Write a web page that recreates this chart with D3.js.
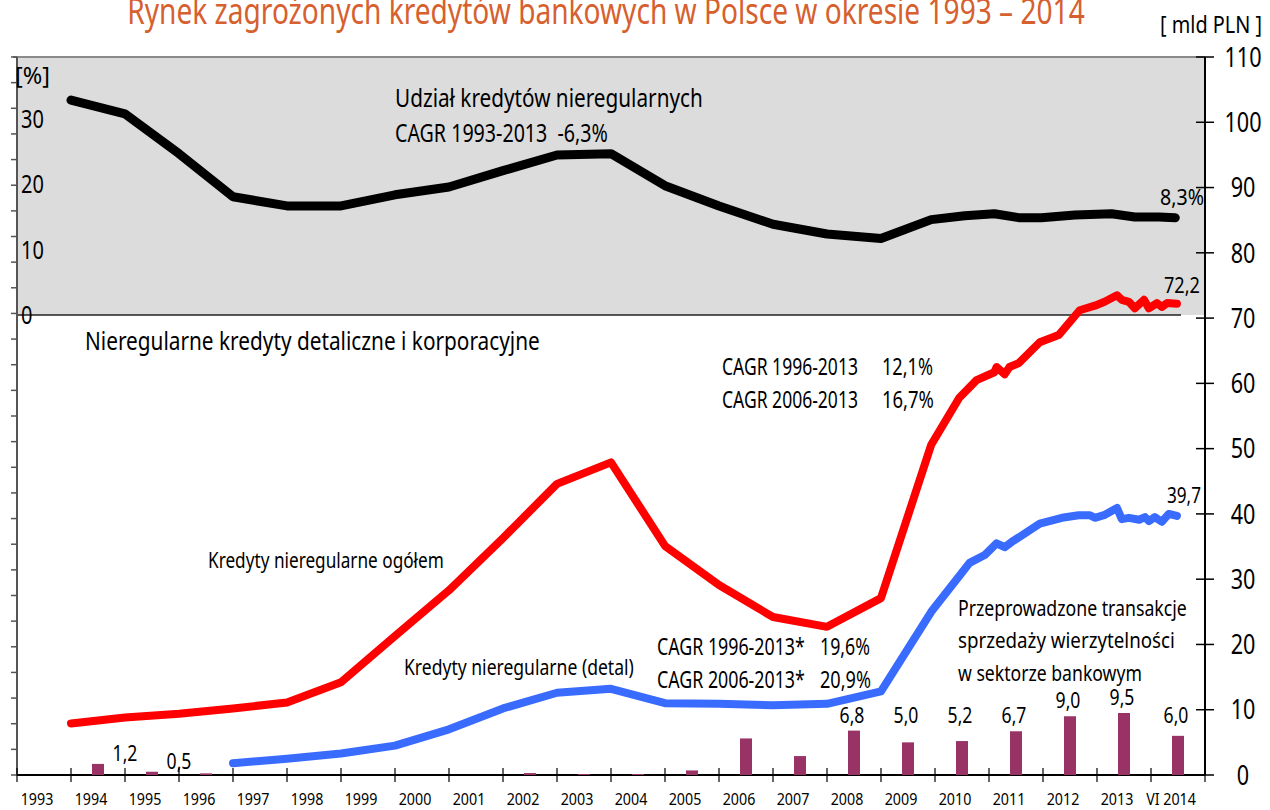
<!DOCTYPE html>
<html>
<head>
<meta charset="utf-8">
<script src="https://cdn.jsdelivr.net/npm/d3@7"></script>
<style>
    body { margin: 0; background: #fff; }
    svg text { font-family: "Noto Sans", "Open Sans", sans-serif; fill: #000; white-space: pre; }
</style>
</head>
<body>
<svg id="chart" width="1270" height="810"></svg>
<script>
// x axis labels, one per year band
const yearLabels = ["1993","1994","1995","1996","1997","1998","1999","2000","2001","2002","2003",
    "2004","2005","2006","2007","2008","2009","2010","2011","2012","2013","VI 2014"];

// udział kredytów nieregularnych [%] (time = year end, later points monthly/quarterly)
const shareTime  = [1994, 1995, 1996, 1997, 1998, 1999, 2000, 2001, 2002, 2003, 2004, 2005, 2006, 2007, 2008, 2009,
    2009.93, 2010.55, 2011.1, 2011.55, 2011.97, 2012.59, 2013.27, 2013.7, 2014.15, 2014.45];
const shareValue = [32.9, 30.8, 24.7, 18.1, 16.7, 16.7, 18.4, 19.6, 22.1, 24.5, 24.7, 19.8, 16.7, 13.9, 12.4, 11.7,
    14.6, 15.2, 15.5, 14.9, 14.9, 15.3, 15.5, 15.0, 15.0, 14.9];

// kredyty nieregularne ogółem [mld PLN]
const totalTime  = [1994, 1995, 1996, 1997, 1998, 1999, 2000, 2001, 2002, 2003, 2004, 2005, 2006, 2007, 2008, 2009,
    2009.93, 2010.45, 2010.77, 2011.1, 2011.14, 2011.29, 2011.38, 2011.55, 2011.94, 2012.29, 2012.68, 2012.96,
    2013.14, 2013.37, 2013.46, 2013.59, 2013.7, 2013.87, 2013.96, 2014.11, 2014.2, 2014.3, 2014.48];
const totalValue = [7.9, 8.8, 9.4, 10.2, 11.1, 14.2, 21.3, 28.3, 36.3, 44.6, 47.9, 35.1, 29.1, 24.2, 22.7, 27.1,
    50.6, 57.8, 60.5, 61.7, 62.5, 61.4, 62.5, 63.1, 66.3, 67.4, 71.2, 71.9,
    72.5, 73.5, 72.8, 72.5, 71.5, 72.8, 71.5, 72.3, 71.7, 72.3, 72.2];

// kredyty nieregularne (detal) [mld PLN]
const retailTime  = [1997, 1998, 1999, 2000, 2001, 2002, 2003, 2004, 2005, 2006, 2007, 2008, 2009,
    2009.93, 2010.49, 2010.64, 2010.92, 2011.14, 2011.29, 2011.42, 2011.94, 2012.35, 2012.66, 2012.87, 2012.96,
    2013.13, 2013.37, 2013.46, 2013.59, 2013.78, 2013.89, 2013.96, 2014.07, 2014.2, 2014.33, 2014.48];
const retailValue = [1.8, 2.5, 3.3, 4.5, 7.0, 10.2, 12.6, 13.2, 11.0, 10.9, 10.7, 10.9, 12.8,
    25.0, 30.9, 32.5, 33.7, 35.5, 34.9, 35.7, 38.5, 39.4, 39.8, 39.8, 39.4,
    39.8, 40.9, 39.2, 39.4, 39.1, 39.5, 38.9, 39.5, 38.8, 40.0, 39.7];

// sprzedaż wierzytelności [mld PLN], one bar per year band
const saleValue = [0, 1.7, 0.5, 0.25, 0, 0, 0, 0, 0, 0.3, 0.15, 0.15, 0.7, 5.6, 2.9, 6.8, 5.0, 5.2, 6.7, 9.0, 9.5, 6.0];
const saleLabelYear = [1994, 1995, 2008, 2009, 2010, 2011, 2012, 2013, 2014];
const saleLabelText = ["1,2", "0,5", "6,8", "5,0", "5,2", "6,7", "9,0", "9,5", "6,0"];

const mldTicks = d3.range(0, 111, 10);
const pctTicks = [0, 10, 20, 30];

const svg = d3.select("#chart");

const x = d3.scaleLinear().domain([1993, 2015]).range([17, 1205]);
const y = d3.scaleLinear().domain([0, 110]).range([775, 57]);
const yPct = d3.scaleLinear().domain([0, 39.5]).range([315, 57]);

// the original uses a condensed face: squeeze each text horizontally,
// either by a factor or to a given width
function squeeze(sel, k, width) {
    sel.each(function(d) {
        const w = this.getComputedTextLength();
        const f = width ? width(d) / w : k;
        const tx = +this.getAttribute("x"), ty = +this.getAttribute("y");
        this.setAttribute("x", 0);
        this.setAttribute("y", 0);
        this.setAttribute("transform", "translate(" + tx + "," + ty + ") scale(" + f + ",1)");
    });
}

// grey panel for the share line
svg.append("rect")
    .attr("x", x(1993)).attr("y", yPct(39.5))
    .attr("width", x(2015) - x(1993)).attr("height", yPct(0) - yPct(39.5))
    .attr("fill", "#dcdcdc");
svg.append("line")
    .attr("x1", 13).attr("x2", x(2015))
    .attr("y1", yPct(39.5)).attr("y2", yPct(39.5))
    .attr("stroke", "#8a8a8a").attr("stroke-width", 2);
svg.append("line")
    .attr("x1", x(1993)).attr("x2", 1181)
    .attr("y1", yPct(0)).attr("y2", yPct(0))
    .attr("stroke", "#222").attr("stroke-width", 1.5);

// left axis (plain ticks)
svg.append("line")
    .attr("x1", 17).attr("x2", 17).attr("y1", 57).attr("y2", 775)
    .attr("stroke", "#555").attr("stroke-width", 2);
const leftTick = d3.scaleLinear().domain([0, 28]).range([775, 57]);
svg.append("g").selectAll("line").data(d3.range(0, 29)).join("line")
    .attr("x1", 11).attr("x2", 17)
    .attr("y1", d => leftTick(d)).attr("y2", d => leftTick(d))
    .attr("stroke", "#555").attr("stroke-width", 1.5);
svg.append("g").selectAll("text").data(pctTicks).join("text")
    .attr("x", 21).attr("y", d => yPct(d)).attr("dy", "0.36em")
    .style("font-size", "25px")
    .text(d => d)
    .call(squeeze, 0.8);
svg.append("text").attr("x", 15).attr("y", 84).style("font-size", "24px").text("[%]")
    .call(squeeze, 0, () => 35);

// right axis
svg.append("line")
    .attr("x1", 1205).attr("x2", 1205).attr("y1", 57).attr("y2", 775)
    .attr("stroke", "#000").attr("stroke-width", 2);
svg.append("g").selectAll("line").data(mldTicks).join("line")
    .attr("x1", 1196).attr("x2", 1214)
    .attr("y1", d => y(d)).attr("y2", d => y(d))
    .attr("stroke", "#000").attr("stroke-width", 1.5);
svg.append("g").selectAll("text").data(mldTicks).join("text")
    .attr("x", 1243).attr("y", d => y(d)).attr("dy", "0.36em")
    .attr("text-anchor", "middle")
    .style("font-size", "27px")
    .text(d => d)
    .call(squeeze, 0.8);
svg.append("text").attr("x", 1262).attr("y", 33).attr("text-anchor", "end")
    .style("font-size", "23px").text("[ mld PLN ]")
    .call(squeeze, 0, () => 102);

// bottom axis
svg.append("line")
    .attr("x1", 17).attr("x2", 1205).attr("y1", 775).attr("y2", 775)
    .attr("stroke", "#000").attr("stroke-width", 2);
svg.append("g").selectAll("line").data(d3.range(1993, 2016)).join("line")
    .attr("x1", d => x(d)).attr("x2", d => x(d))
    .attr("y1", 768).attr("y2", 782)
    .attr("stroke", "#000").attr("stroke-width", 1.2);
svg.append("g").selectAll("text").data(yearLabels).join("text")
    .attr("x", (d, i) => x(1993 + i + 0.5) - 7).attr("y", 805)
    .attr("text-anchor", "middle")
    .style("font-size", "17px")
    .text(d => d)
    .call(squeeze, 0.84);

// bars
svg.append("g").selectAll("rect").data(saleValue).join("rect")
    .attr("x", (d, i) => x(1993 + i + 0.5) - 6)
    .attr("y", d => y(d))
    .attr("width", 12)
    .attr("height", d => y(0) - y(d))
    .attr("fill", "#993366");
svg.append("g").selectAll("text").data(saleLabelYear).join("text")
    .attr("x", d => d < 2000 ? x(d + 1) : x(d + 0.5) - 2)
    .attr("y", d => d < 2000 ? y(saleValue[d - 1993]) - 3 : Math.min(y(saleValue[d - 1993]), y(6.8)) - 8)
    .attr("text-anchor", "middle")
    .style("font-size", "22px")
    .text((d, i) => saleLabelText[i])
    .call(squeeze, 0.8);

// lines
function drawLine(times, values, scale, color, w) {
    const pts = times.map((t, i) => [t, values[i]]);
    svg.append("path")
        .datum(pts)
        .attr("fill", "none")
        .attr("stroke", color)
        .attr("stroke-width", w)
        .attr("stroke-linejoin", "round")
        .attr("stroke-linecap", "round")
        .attr("d", d3.line().x(d => x(d[0])).y(d => scale(d[1])));
}
drawLine(shareTime, shareValue, yPct, "#000", 9);
drawLine(totalTime, totalValue, y, "#ff0000", 8);
drawLine(retailTime, retailValue, y, "#3a6bff", 8);

// title
svg.append("text")
    .attr("x", 606).attr("y", 24)
    .attr("text-anchor", "middle")
    .style("font-size", "36px")
    .style("fill", "#d6602e")
    .text("Rynek zagrożonych kredytów bankowych w Polsce w okresie 1993 – 2014")
    .call(squeeze, 0, () => 958);

// annotations: x, baseline, font size, text, width
const notes = [
    [395, 107, 25, "Udział kredytów nieregularnych", 308],
    [395, 142, 25, "CAGR 1993-2013  -6,3%", 213],
    [85, 350, 25, "Nieregularne kredyty detaliczne i korporacyjne", 455],
    [722, 375, 23, "CAGR 1996-2013", 136],
    [882, 375, 23, "12,1%", 51],
    [722, 408, 23, "CAGR 2006-2013", 136],
    [882, 408, 23, "16,7%", 52],
    [208, 568, 22, "Kredyty nieregularne ogółem", 236],
    [404, 675, 22, "Kredyty nieregularne (detal)", 230],
    [657, 655, 23, "CAGR 1996-2013*", 148],
    [820, 655, 23, "19,6%", 50],
    [657, 688, 23, "CAGR 2006-2013*", 148],
    [820, 688, 23, "20,9%", 51],
    [958, 616, 22, "Przeprowadzone transakcje", 229],
    [958, 648, 22, "sprzedaży wierzytelności", 217],
    [958, 681, 22, "w sektorze bankowym", 184],
    [1160, 205, 22, "8,3%", 44],
    [1164, 293, 22, "72,2", 36],
    [1167, 503, 22, "39,7", 34]
];
svg.append("g").selectAll("text").data(notes).join("text")
    .attr("x", d => d[0]).attr("y", d => d[1])
    .style("font-size", d => d[2] + "px")
    .text(d => d[3])
    .call(squeeze, 0, d => d[4]);
</script>
</body>
</html>
